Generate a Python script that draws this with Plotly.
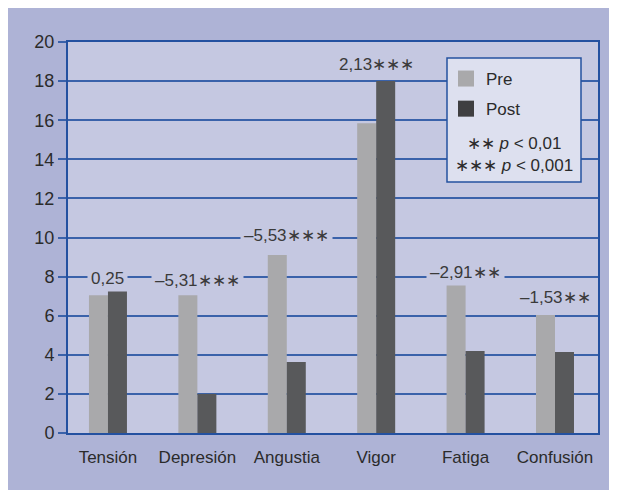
import plotly.graph_objects as go

categories = ["Tensión", "Depresión", "Angustia", "Vigor", "Fatiga", "Confusión"]
pre_values = [7.05, 7.05, 9.1, 15.85, 7.57, 6.04]
post_values = [7.27, 2.0, 3.63, 18.0, 4.19, 4.14]
diff_labels = ["0,25", "–5,31∗∗∗", "–5,53∗∗∗", "2,13∗∗∗", "–2,91∗∗", "–1,53∗∗"]
y_ticks = [0, 2, 4, 6, 8, 10, 12, 14, 16, 18, 20]

label_shift = [12, 15, 20, 17, 13, 17]

PRE_C = "#a9a9ab"
POST_C = "#58595b"
OUTER_BG = "#aeb3d6"
PLOT_BG = "#c5c8e1"
GRID_C = "#3a62aa"
AXIS_C = "#2451a0"
TXT_C = "#2b2b2b"
FONT = "Liberation Sans"

fig = go.Figure()
fig.add_trace(go.Bar(x=categories, y=pre_values, name="Pre", marker_color=PRE_C,
                     marker_line_width=0, showlegend=False))
fig.add_trace(go.Bar(x=categories, y=post_values, name="Post", marker_color=POST_C,
                     marker_line_width=0, showlegend=False))
# legend swatches
fig.add_trace(go.Scatter(x=[None], y=[None], mode="markers", name="Pre", legendgroup="a",
                         marker=dict(symbol="square", size=18, color=PRE_C)))
fig.add_trace(go.Scatter(x=[None], y=[None], mode="markers", name="Post", legendgroup="b",
                         marker=dict(symbol="square", size=18, color="#3f3f41")))

OFF = 8  # page offset of the figure
W, H = 617, 490
# plot area in page coordinates: x 68..598, y 42..433
L, R, T, B = 68 - OFF, W - (598 - OFF), 42 - OFF, H - (433 - OFF)
pw, ph = W - L - R, H - T - B

def px_x(x):
    return (x - OFF - L) / pw

def px_y(y):
    return (H - B - (y - OFF)) / ph

shapes = [
    dict(type="rect", xref="paper", yref="paper", layer="below",
         x0=0, x1=1, y0=0, y1=1, fillcolor=PLOT_BG, line=dict(width=0)),
    dict(type="rect", xref="paper", yref="paper", layer="above",
         x0=px_x(447), x1=px_x(581), y0=px_y(182), y1=px_y(58),
         fillcolor="#dde0ef", line=dict(color=AXIS_C, width=1.5)),
]

annotations = []
for c, p, q, lab, s in zip(categories, pre_values, post_values, diff_labels, label_shift):
    annotations.append(dict(x=c, y=max(p, q), text=lab, showarrow=False,
                            yanchor="middle", yshift=s, bgcolor=PLOT_BG, borderpad=3,
                            font=dict(family=FONT, size=17, color="#3a3a3a")))
annotations.append(dict(xref="paper", yref="paper", x=px_x(514), y=px_y(154),
                        text="∗∗ <i>p</i> &lt; 0,01<br>∗∗∗ <i>p</i> &lt; 0,001",
                        showarrow=False, align="center", xanchor="center", yanchor="middle",
                        font=dict(family=FONT, size=17, color=TXT_C)))

fig.update_layout(
    width=W, height=H,
    margin=dict(l=L, r=R, t=T, b=B, autoexpand=False),
    paper_bgcolor=OUTER_BG,
    plot_bgcolor="rgba(0,0,0,0)",
    barmode="group", bargap=0.575, bargroupgap=0,
    font=dict(family=FONT, size=17, color=TXT_C),
    shapes=shapes,
    annotations=annotations,
    legend=dict(x=px_x(446), y=px_y(61), xanchor="left", yanchor="top",
                bgcolor="rgba(0,0,0,0)", borderwidth=0,
                traceorder="grouped", tracegroupgap=5,
                font=dict(family=FONT, size=17, color=TXT_C)),
    xaxis=dict(range=[-0.447, 5.481], showline=True, linecolor=AXIS_C, linewidth=2,
               mirror=True, showgrid=False, ticks="", ticklabelstandoff=8,
               fixedrange=True,
               tickfont=dict(family=FONT, size=17, color=TXT_C)),
    yaxis=dict(range=[0, 20], tickvals=y_ticks, showline=True, linecolor=AXIS_C,
               linewidth=2, mirror=True, showgrid=True, gridcolor=GRID_C, gridwidth=1.5,
               ticks="outside", ticklen=8, tickcolor=GRID_C, tickwidth=1.5,
               zeroline=False, fixedrange=True,
               tickfont=dict(family=FONT, size=18, color=TXT_C)),
)

fig.write_html("out.html")
